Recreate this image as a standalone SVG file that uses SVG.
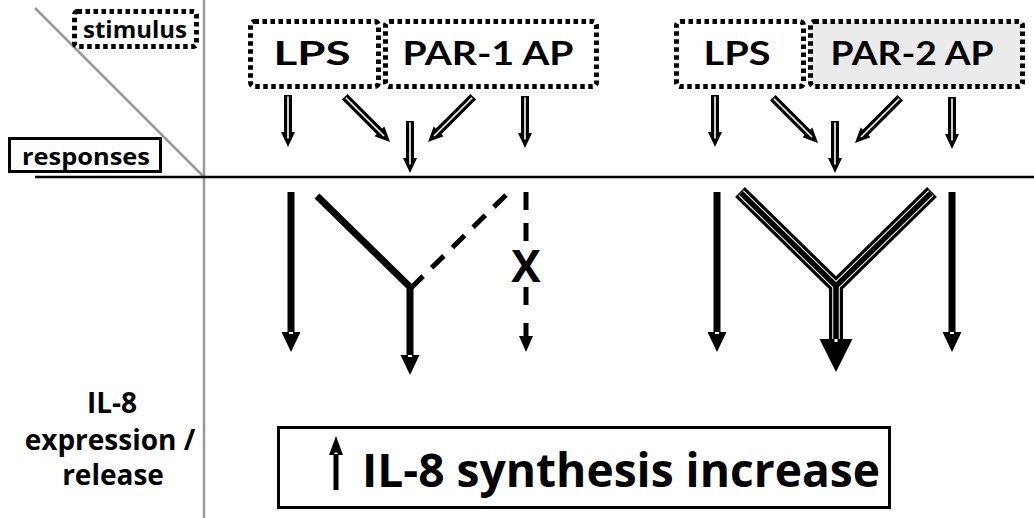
<svg xmlns="http://www.w3.org/2000/svg" width="1034" height="518" viewBox="0 0 1034 518">
  <style>
    .axis { stroke: #999; stroke-width: 2.5; fill: none; }
    .rule { stroke: #000; stroke-width: 2.5; fill: none; }
    .dot { fill: none; stroke: #000; stroke-width: 5; stroke-dasharray: 4.5 3.5; }
    .dot.shade { fill: #ebebeb; }
    .frame { fill: #fff; stroke: #000; stroke-width: 3; }
    .lbl { font-family: "Open Sans", "Noto Sans", sans-serif; font-weight: 700; fill: #000; }
    .stim { font-family: Lato, "Open Sans", sans-serif; font-weight: 700; font-size: 33px; fill: #000; text-anchor: middle; }
    .shaft { stroke: #000; stroke-width: 7; fill: none; }
    .dash { stroke: #000; stroke-width: 5; fill: none; }
    .head { fill: #000; }
    .slot { fill: #fff; }
  </style>
  <defs>
    <!-- hollow-shaft arrow pointing down (+y), tip at origin -->
    <g id="dblV">
      <rect x="-4" y="-52" width="8" height="40" fill="#000"/>
      <polygon points="-7,-15 7,-15 0,0" fill="#000"/>
      <rect x="-0.8" y="-50.5" width="1.6" height="42" fill="#fff"/>
    </g>
    <g id="dblD">
      <rect x="-4" y="-64" width="8" height="52" fill="#000"/>
      <polygon points="-7,-15 7,-15 0,0" fill="#000"/>
      <rect x="-0.8" y="-62.5" width="1.6" height="54" fill="#fff"/>
    </g>
  </defs>

  <!-- frame of the table -->
  <g id="axes">
    <line class="axis" x1="204" y1="0" x2="204" y2="518"/>
    <line class="axis" x1="35" y1="8" x2="205" y2="178"/>
    <line class="rule" x1="35" y1="177" x2="1034" y2="177"/>
  </g>

  <g id="stimulus-key">
    <rect class="dot" x="74.5" y="11.5" width="122" height="35" rx="3"/>
    <text class="lbl" x="135" y="38" font-size="23" text-anchor="middle" textLength="104" lengthAdjust="spacingAndGlyphs">stimulus</text>
  </g>
  <g id="responses-key">
    <rect class="frame" x="9.5" y="138.5" width="151" height="33"/>
    <text class="lbl" x="86" y="165" font-size="24" text-anchor="middle" textLength="128" lengthAdjust="spacingAndGlyphs">responses</text>
  </g>

  <g id="lps-1">
    <rect class="dot" x="250.5" y="21.5" width="128" height="65" rx="4"/>
    <text class="stim" x="312" y="65" textLength="77" lengthAdjust="spacingAndGlyphs">LPS</text>
  </g>
  <g id="par1">
    <rect class="dot" x="385.5" y="21.5" width="211" height="65" rx="4"/>
    <text class="stim" x="488" y="65" textLength="171" lengthAdjust="spacingAndGlyphs">PAR-1 AP</text>
  </g>
  <g id="lps-2">
    <rect class="dot" x="676.5" y="21.5" width="127" height="65" rx="4"/>
    <text class="stim" x="737" y="65" textLength="67" lengthAdjust="spacingAndGlyphs">LPS</text>
  </g>
  <g id="par2">
    <rect class="dot shade" x="810.5" y="21.5" width="212" height="65" rx="4"/>
    <text class="stim" x="912" y="65" textLength="163" lengthAdjust="spacingAndGlyphs">PAR-2 AP</text>
  </g>

  <g id="il8-label">
    <text class="lbl" font-size="28" text-anchor="middle" x="112" y="413">IL-8</text>
    <text class="lbl" font-size="28" text-anchor="middle" x="110" y="450">expression /</text>
    <text class="lbl" font-size="28" text-anchor="middle" x="113" y="485">release</text>
  </g>

  <g id="outcome">
    <rect class="frame" x="278.5" y="427.5" width="611" height="80"/>
    <rect x="333.5" y="452" width="5" height="38" fill="#000"/>
    <polygon points="329,455 343,455 336,436" fill="#000"/>
    <rect x="334.5" y="452.5" width="3" height="1.5" fill="#fff"/>
    <text class="lbl" x="362" y="487" font-size="46" textLength="518" lengthAdjust="spacingAndGlyphs">IL-8 synthesis increase</text>
  </g>

  <g id="connectors">
    <!-- stimulus to response arrows, PAR-1 side -->
    <use href="#dblV" transform="translate(288,147)"/>
    <use href="#dblD" transform="translate(390,142) rotate(-45)"/>
    <use href="#dblV" transform="translate(410,173)"/>
    <use href="#dblD" transform="translate(428,142) rotate(45)"/>
    <use href="#dblV" transform="translate(525,148)"/>
    <!-- stimulus to response arrows, PAR-2 side -->
    <use href="#dblV" transform="translate(715,147)"/>
    <use href="#dblD" transform="translate(818,143) rotate(-45)"/>
    <use href="#dblV" transform="translate(835,173)"/>
    <use href="#dblD" transform="translate(855,143) rotate(45)"/>
    <use href="#dblV" transform="translate(952,149)"/>

    <!-- PAR-1 responses -->
    <line class="shaft" x1="291" y1="192" x2="291" y2="334"/>
    <polygon class="head" points="281.5,332 300.5,332 291,352"/>
    <rect class="slot" x="289" y="332" width="4" height="2"/>

    <polyline class="shaft" points="317,196 410,287 410,357" stroke-linejoin="miter"/>
    <polygon class="head" points="400.5,355 419.5,355 410,375"/>
    <rect class="slot" x="408" y="355" width="4" height="2"/>

    <line class="dash" x1="506" y1="195" x2="411" y2="288" stroke-dasharray="17 12"/>

    <line class="dash" x1="526" y1="192" x2="526" y2="243" stroke-dasharray="18 13"/>
    <line class="dash" x1="526" y1="287" x2="526" y2="305"/>
    <line class="dash" x1="526" y1="323" x2="526" y2="340"/>
    <polygon class="head" points="519,336 533,336 526,352"/>
    <text class="lbl" x="526" y="282" font-size="44" text-anchor="middle">X</text>

    <!-- PAR-2 responses -->
    <line class="shaft" x1="717" y1="192" x2="717" y2="334" stroke-width="8"/>
    <polygon class="head" points="707.5,332 726.5,332 717,352"/>
    <rect class="slot" x="715" y="332" width="4" height="2"/>

    <line class="shaft" x1="952" y1="192" x2="952" y2="334" stroke-width="8"/>
    <polygon class="head" points="942.5,332 961.5,332 952,352"/>
    <rect class="slot" x="950" y="332" width="4" height="2"/>

    <g stroke-linejoin="miter" fill="none">
      <polyline points="740,192 836,286 836,342" stroke="#000" stroke-width="14"/>
      <polyline points="932,192 836,286" stroke="#000" stroke-width="14"/>
      <polyline points="741,193 836,286 836,341" stroke="#fff" stroke-width="7.5"/>
      <polyline points="931,193 836,286" stroke="#fff" stroke-width="7.5"/>
      <polyline points="741,193 836,286 836,341" stroke="#000" stroke-width="5.5"/>
      <polyline points="931,193 836,286" stroke="#000" stroke-width="5.5"/>
    </g>
    <polygon class="head" points="819.5,339 852.5,339 836,372"/>
    <rect class="slot" x="834.5" y="339" width="3" height="3"/>
  </g>
</svg>
